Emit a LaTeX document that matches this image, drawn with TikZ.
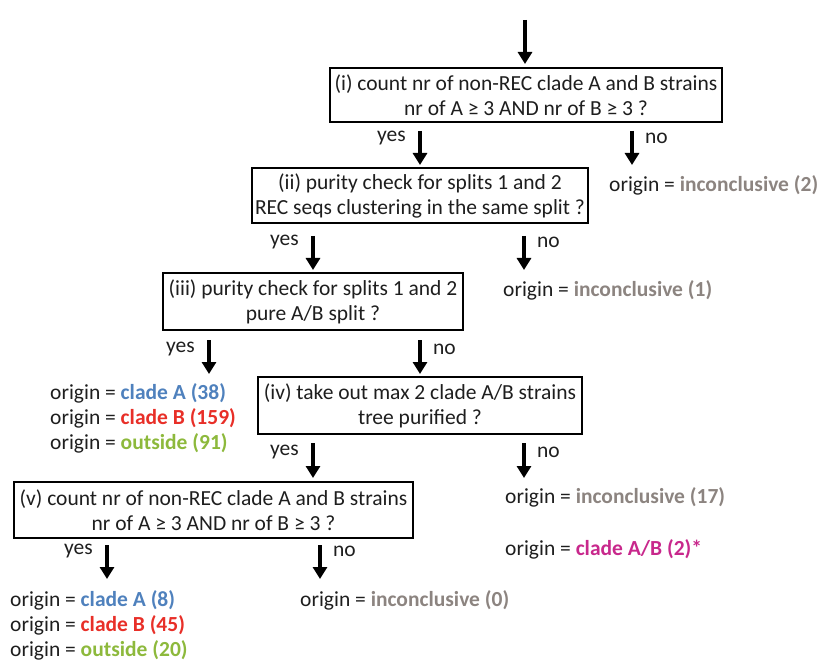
\documentclass[tikz,border=0pt]{standalone}
\usepackage{fontspec}
\setmainfont{Carlito}
\usetikzlibrary{arrows.meta}
\definecolor{cA}{RGB}{79,129,189}
\definecolor{cB}{RGB}{232,47,40}
\definecolor{cOut}{RGB}{141,185,60}
\definecolor{cInc}{RGB}{140,132,128}
\definecolor{cAB}{RGB}{200,40,140}
\definecolor{txt}{RGB}{30,30,30}
\begin{document}
\begin{tikzpicture}[x=1pt,y=-1pt,
  every node/.style={font=\fontsize{21.5}{25}\selectfont, text=txt},
  box/.style={draw=black, line width=2.4pt, inner sep=0pt, align=center, fill=white},
  flow/.style={line width=3.5pt, -{Triangle[width=14pt,length=12pt]}},
  res/.style={anchor=west, align=left, inner sep=0pt},
  yeslbl/.style={anchor=east, inner sep=0pt},
  nolbl/.style={anchor=west, inner sep=0pt}]
\useasboundingbox (0,0) rectangle (819,660);
% boxes
\node[box, minimum width=392, minimum height=54] (b1) at (526,95)
  {(i) count nr of non-REC clade A and B strains\\nr of A ≥ 3 AND nr of B ≥ 3 ?};
\node[box, minimum width=336, minimum height=55] (b2) at (420,195.5)
  {(ii) purity check for splits 1 and 2\\REC seqs clustering in the same split ?};
\node[box, minimum width=300, minimum height=57] (b3) at (313,301.5)
  {(iii) purity check for splits 1 and 2\\pure A/B split ?};
\node[box, minimum width=324, minimum height=57] (b4) at (420,405.5)
  {(iv) take out max 2 clade A/B strains\\tree purified ?};
\node[box, minimum width=399, minimum height=56] (b5) at (213.5,510)
  {(v) count nr of non-REC clade A and B strains\\nr of A ≥ 3 AND nr of B ≥ 3 ?};
% results
\node[res] (r1) at (609,185) {origin = \textbf{\color{cInc}inconclusive (2)}};
\node[res] (r2) at (503,290) {origin = \textbf{\color{cInc}inconclusive (1)}};
\node[res] (r3) at (50,418) {origin = \textbf{\color{cA}clade A (38)}\\origin = \textbf{\color{cB}clade B (159)}\\origin = \textbf{\color{cOut}outside (91)}};
\node[res] (r4) at (505,497) {origin = \textbf{\color{cInc}inconclusive (17)}};
\node[res] (r5) at (505,549) {origin = \textbf{\color{cAB}clade A/B (2)*}};
\node[res] (r6) at (10,625) {origin = \textbf{\color{cA}clade A (8)}\\origin = \textbf{\color{cB}clade B (45)}\\origin = \textbf{\color{cOut}outside (20)}};
\node[res] (r7) at (300,600) {origin = \textbf{\color{cInc}inconclusive (0)}};
% arrow end coordinates
\coordinate (s0) at (525,20);  \coordinate (e0) at (525,64);
\coordinate (s1y) at (420,131); \coordinate (e1y) at (420,165);
\coordinate (s1n) at (632,131); \coordinate (e1n) at (632,165);
\coordinate (s2y) at (313,236); \coordinate (e2y) at (313,270);
\coordinate (s2n) at (524,236); \coordinate (e2n) at (524,270);
\coordinate (s3y) at (209,340); \coordinate (e3y) at (209,374);
\coordinate (s3n) at (420,340); \coordinate (e3n) at (420,374);
\coordinate (s4y) at (313,443); \coordinate (e4y) at (313,478);
\coordinate (s4n) at (524,443); \coordinate (e4n) at (524,478);
\coordinate (s5y) at (107,545); \coordinate (e5y) at (107,579);
\coordinate (s5n) at (320,545); \coordinate (e5n) at (320,579);
\foreach \a in {0,1y,1n,2y,2n,3y,3n,4y,4n,5y,5n}
  \draw[flow] (s\a) -- (e\a);
% labels
\node[yeslbl] (y1) at (406,138) {yes};
\node[nolbl]  (n1) at (645,138) {no};
\node[yeslbl] (y2) at (299,242) {yes};
\node[nolbl]  (n2) at (537,242) {no};
\node[yeslbl] (y3) at (195,349) {yes};
\node[nolbl]  (n3) at (433,349) {no};
\node[yeslbl] (y4) at (299,452) {yes};
\node[nolbl]  (n4) at (537,452) {no};
\node[yeslbl] (y5) at (93,551) {yes};
\node[nolbl]  (n5) at (333,551) {no};
\end{tikzpicture}
\end{document}
